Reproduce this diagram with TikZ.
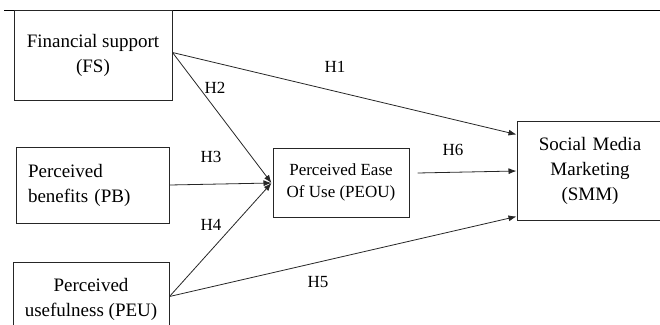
\documentclass[tikz,border=0pt]{standalone}
\usepackage{fontspec}
\setmainfont{Liberation Serif}
\usetikzlibrary{arrows.meta,calc}
\begin{document}
\begin{tikzpicture}[x=1pt,y=-1pt,
  box/.style={draw=black!85,line width=1pt,rectangle,inner sep=0pt},
  big/.style={font=\fontsize{19}{25}\selectfont},
  small/.style={font=\fontsize{17}{22}\selectfont},
  hyp/.style={font=\fontsize{17}{17}\selectfont,inner sep=0pt},
  link/.style={draw=black!85,line width=0.8pt,-{Latex[length=8pt,width=6pt]}}]
\useasboundingbox (0,0) rectangle (660,324);
\begin{scope}
\clip (0,0) rectangle (660,324);
% rule across the top of the page
\draw[line width=0.9pt] (4,10) -- (660,10);
% constructs
\node[box,big,minimum width=158pt,minimum height=90pt,align=center] (FS) at (93,55)
  {Financial support\\(FS)};
\node[box,big,minimum width=153pt,minimum height=76pt,align=left,text width=129pt] (PB) at (92.5,185)
  {Perceived\\benefits (PB)};
\node[box,big,minimum width=156pt,minimum height=74pt,align=center] (PEU) at (91,299)
  {Perceived\\usefulness (PEU)};
\node[box,small,minimum width=136pt,minimum height=69pt,align=center] (PEOU) at (341,182.5)
  {Perceived Ease\\Of Use (PEOU)};
\node[box,big,minimum width=154pt,minimum height=99pt,align=center,text width=150pt] (SMM) at (594,170.5)
  {\hspace*{-8pt}Social Media\\\hspace*{-8pt}Marketing\\\hspace*{-8pt}(SMM)};
% anchor points on the box sides
\coordinate (fsout) at ($(FS.north east)+(0,43)$);
\coordinate (peuout) at ($(PEU.north east)+(0,35)$);
\coordinate (hub) at ($(PEOU.west)+(-1,0.5)$);
\coordinate (smmtop) at ($(SMM.north west)+(0,14)$);
\coordinate (smmbot) at ($(SMM.south west)+(0,-4)$);
% hypotheses
\draw[link] (fsout) -- (smmtop);
\draw[link] (fsout) -- (hub);
\draw[link] (PB.east) -- (hub);
\draw[link] (peuout) -- (hub);
\draw[link] (peuout) -- (smmbot);
\draw[link] ($(PEOU.east)+(8,-9.5)$) -- ($(SMM.west)+(0,0.5)$);
% labels
\node[hyp] (h1) at (335,67) {H1};
\node[hyp] (h2) at (215,88) {H2};
\node[hyp] (h3) at (211,157) {H3};
\node[hyp] (h4) at (211,225) {H4};
\node[hyp] (h5) at (318,282) {H5};
\node[hyp] (h6) at (453,150) {H6};
\end{scope}
\end{tikzpicture}
\end{document}
